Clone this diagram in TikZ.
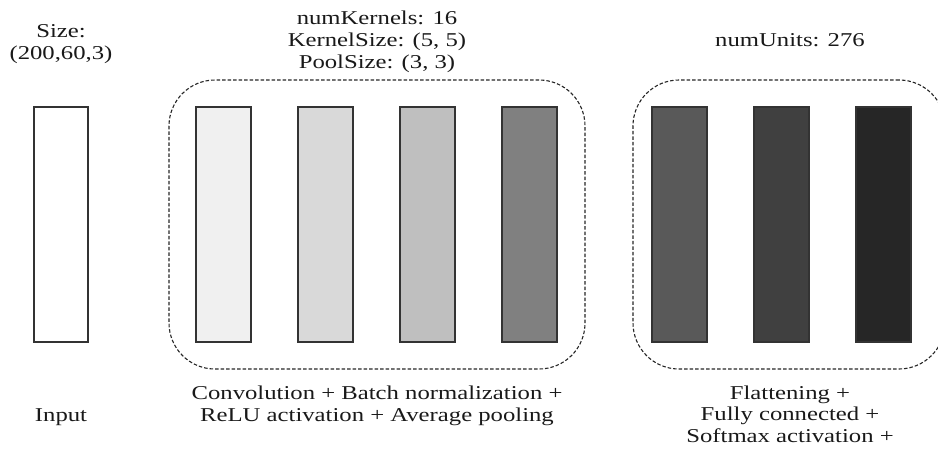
\documentclass[tikz,border=0pt]{standalone}
\usepackage{fontspec}
\setmainfont[FakeStretch=1.26]{Liberation Serif}

\definecolor{shadeA}{HTML}{F0F0F0}
\definecolor{shadeB}{HTML}{D9D9D9}
\definecolor{shadeC}{HTML}{BFBFBF}
\definecolor{shadeD}{HTML}{808080}
\definecolor{shadeE}{HTML}{595959}
\definecolor{shadeF}{HTML}{404040}
\definecolor{shadeG}{HTML}{262626}
\definecolor{edgegray}{HTML}{333333}

\tikzset{
  layerbar/.style={draw=edgegray, line width=1.1pt, inner sep=0pt,
    minimum width=55pt, minimum height=235pt},
  groupbox/.style={draw=black!85, line width=1.1pt,
    dash pattern=on 3.5pt off 2pt, rounded corners=46pt, inner sep=0pt,
    minimum height=289pt},
  caption/.style={font=\fontsize{19.6}{21.7}\selectfont, align=center,
    anchor=base, inner sep=0pt, text=black!90},
}

\begin{document}
\begin{tikzpicture}[x=1pt, y=-1pt]
  \useasboundingbox (0,0) rectangle (938,448);

  % dashed groups
  \node[groupbox, minimum width=416pt] (convgroup) at (377,224.5) {};
  \node[groupbox, minimum width=312pt] (densegroup) at (789,224.5) {};

  % input layer
  \node[layerbar, fill=white, minimum width=54pt] (input) at (61,224.5) {};

  % convolutional blocks
  \node[layerbar, fill=shadeA] (conv1) at (223.5,224.5) {};
  \node[layerbar, fill=shadeB] (conv2) at (325.5,224.5) {};
  \node[layerbar, fill=shadeC] (conv3) at (427.5,224.5) {};
  \node[layerbar, fill=shadeD] (conv4) at (529.5,224.5) {};

  % dense blocks
  \node[layerbar, fill=shadeE] (dense1) at (679.5,224.5) {};
  \node[layerbar, fill=shadeF] (dense2) at (781.5,224.5) {};
  \node[layerbar, fill=shadeG] (dense3) at (883.5,224.5) {};

  % labels above (anchored at the baseline of their last line)
  \node[caption] (sizelbl) at (61,59.5) {Size:\\(200,60,3)};
  \node[caption] (convparams) at (377,68.3) {numKernels: 16\\KernelSize: (5, 5)\\PoolSize: (3, 3)};
  \node[caption] (denseparams) at (790,46.7) {numUnits: 276};

  % labels below
  \node[caption] (inputlbl) at (61,421) {Input};
  \node[caption] (convlbl) at (377,421) {Convolution + Batch normalization +\\ReLU activation + Average pooling};
  \node[caption] (denselbl) at (790,442.5) {Flattening +\\Fully connected +\\Softmax activation +};
\end{tikzpicture}
\end{document}
